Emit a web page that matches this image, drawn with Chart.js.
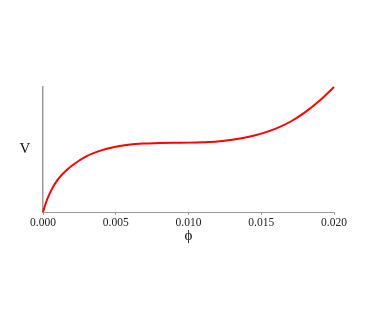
<!DOCTYPE html>
<html>
<head>
<meta charset="utf-8">
<script src="https://cdn.jsdelivr.net/npm/chart.js@4.4.1/dist/chart.umd.min.js"></script>
<style>
  html, body { margin: 0; padding: 0; background: #ffffff; }
  canvas { display: block; }
</style>
</head>
<body>
<canvas id="chart" width="374" height="327"></canvas>
<script>
  // φ values along the x axis and the V curve
  var phi = [0, 0.00025, 0.0006, 0.001, 0.0015, 0.002, 0.003, 0.004, 0.005, 0.006, 0.007,
             0.008, 0.009, 0.010, 0.011, 0.012, 0.013, 0.014, 0.015, 0.016, 0.017,
             0.018, 0.019, 0.020];
  var vValues = [0, 0.09, 0.181, 0.257, 0.322, 0.372, 0.447, 0.493, 0.522, 0.540, 0.548,
                 0.552, 0.554, 0.555, 0.558, 0.564, 0.578, 0.598, 0.627, 0.667, 0.722,
                 0.797, 0.890, 1.0];
  var xTicks = [0, 0.005, 0.010, 0.015, 0.020];

  var serif = "'Liberation Serif', 'Times New Roman', serif";
  var axisGray = '#9a9a9a';

  // axis names: "V" left of the y axis, "ϕ" under the tick labels
  var axisNames = {
    id: 'axisNames',
    afterDraw: function (chart) {
      var ctx = chart.ctx, a = chart.chartArea;
      ctx.save();
      ctx.fillStyle = '#111111';
      ctx.font = '15px ' + serif;
      ctx.textAlign = 'center';
      ctx.textBaseline = 'middle';
      ctx.fillText('V', a.left - 18, 149);
      ctx.fillText('ϕ', (a.left + a.right) / 2, 236);
      ctx.restore();
    }
  };

  new Chart(document.getElementById('chart'), {
    type: 'line',
    data: {
      datasets: [{
        data: phi.map(function (p, i) { return { x: p, y: vValues[i] }; }),
        borderColor: '#ff0000',
        borderWidth: 2,
        pointRadius: 0,
        fill: false,
        cubicInterpolationMode: 'monotone',
        clip: false
      }]
    },
    options: {
      responsive: false,
      animation: false,
      layout: { padding: { left: 43, right: 40, top: 87, bottom: 0 } },
      plugins: { legend: { display: false }, tooltip: { enabled: false } },
      scales: {
        x: {
          type: 'linear',
          min: 0,
          max: 0.02,
          afterFit: function (s) { s.height = 115; },
          afterBuildTicks: function (s) {
            s.ticks = xTicks.map(function (v) { return { value: v }; });
          },
          grid: { display: true, drawOnChartArea: false, tickLength: 3, color: axisGray },
          border: { display: true, color: axisGray, width: 1 },
          ticks: {
            color: '#222222',
            padding: 1,
            maxRotation: 0,
            font: { family: serif, size: 11.5 },
            callback: function (v) { return v.toFixed(3); }
          }
        },
        y: {
          min: 0,
          max: 1,
          afterFit: function (s) { s.width = 0; },
          grid: { display: false, drawTicks: false },
          border: { display: true, color: axisGray, width: 1.5 },
          ticks: { display: false }
        }
      }
    },
    plugins: [axisNames]
  });
</script>
</body>
</html>
